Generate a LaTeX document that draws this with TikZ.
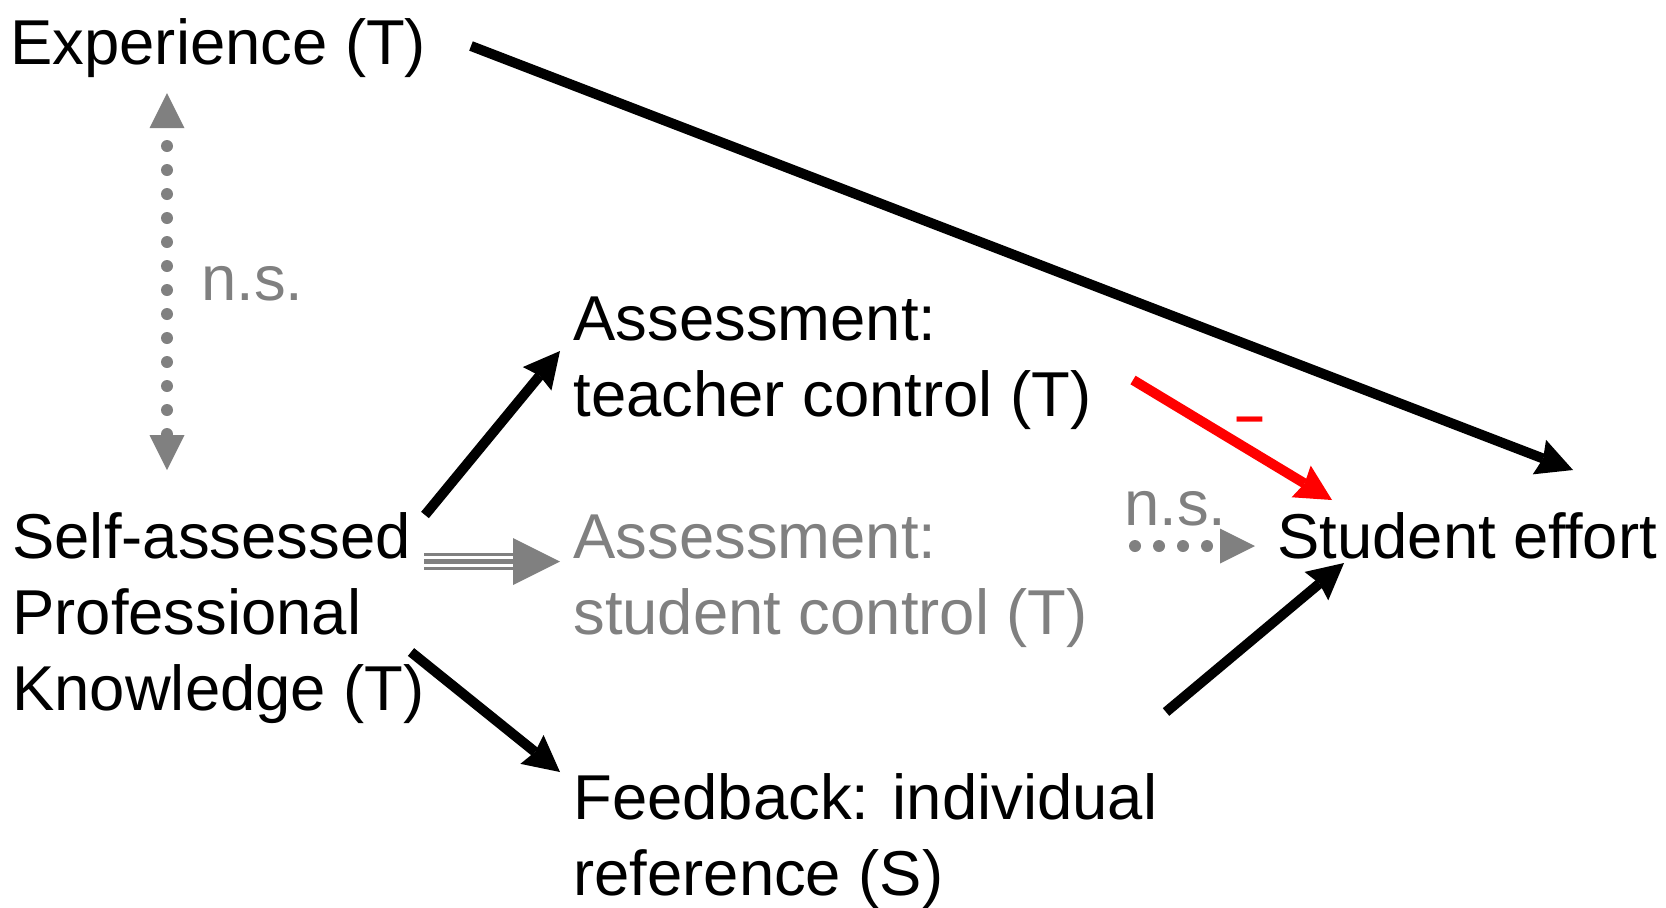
\documentclass[tikz,border=0pt]{standalone}
\usepackage{fontspec}
\setmainfont{Liberation Sans}
\usetikzlibrary{arrows.meta,calc}

\begin{document}
\begin{tikzpicture}[
    x=0.5pt,
    y=-0.5pt,
    lbl/.style={font=\fontsize{31.7pt}{38pt}\selectfont, inner sep=0pt, anchor=base west, align=left},
    grylbl/.style={lbl, text=gray},
    pth/.style={line width=5pt, -{Stealth[length=18pt,width=18.5pt,inset=2pt,line width=0pt]}},
    nstip/.tip={Triangle[length=17.5pt,width=17.5pt,line width=0pt]},
    nsdots/.style={gray, line width=6pt, line cap=round, dash pattern=on 0pt off 12pt},
    triple/.style={gray, line width=8.2pt, -{Triangle[length=23.5pt,width=23.5pt,line width=0pt]},
        postaction={draw, white, line width=5.35pt, -, shorten >=23.5pt},
        postaction={draw, gray, line width=2.35pt, -, shorten >=23.5pt}}
]
\useasboundingbox (0,0) rectangle (1666,907);

\node[lbl] (exp) at (10,64) {Experience (T)};
\node[lbl] (ska) at (12,710) {Self-assessed\\Professional\\Knowledge (T)};
\node[lbl] (atc) at (573,416) {Assessment:\\teacher control (T)};
\node[grylbl] (asc) at (573,634) {Assessment:\\student control (T)};
\node[lbl] (fbk) at (573,895) {Feedback: individual\\reference (S)};
\node[lbl] (eff) at (1277,558) {Student effort};
\node[grylbl] (ns1) at (201,300) {n.s.};
\node[grylbl] (ns2) at (1124,525) {n.s.};
\node[lbl, font=\fontsize{26pt}{30pt}\selectfont\bfseries, text=red] (neg) at (1235,433) {–};

\draw[pth] ($(exp.base west)+(461,-18)$) -- ($(eff.base west)+(296,-88)$);
\draw[pth] ($(ska.base west)+(413,-195)$) -- ($(atc.base west)+(-13,-65)$);
\draw[pth] ($(ska.base west)+(399,-58)$) -- ($(fbk.base west)+(-13,-123)$);
\draw[pth] ($(fbk.base west)+(593,-183)$) -- ($(eff.base west)+(67,5)$);
\draw[pth, red] ($(atc.base west)+(560,-36)$) -- ($(eff.base west)+(55,-58)$);
\draw[triple] ($(ska.base west)+(412,-148.5)$) -- ($(asc.base west)+(-13,-72.5)$);
\draw[nsdots, -{nstip}] ($(asc.base west)+(562,-88)$) -- ($(eff.base west)+(-22,-12)$);
\draw[nsdots, dash phase=3pt, {nstip}-{nstip}] ($(exp.base west)+(157,29)$) -- ($(ska.base west)+(155,-240)$);
\end{tikzpicture}
\end{document}
